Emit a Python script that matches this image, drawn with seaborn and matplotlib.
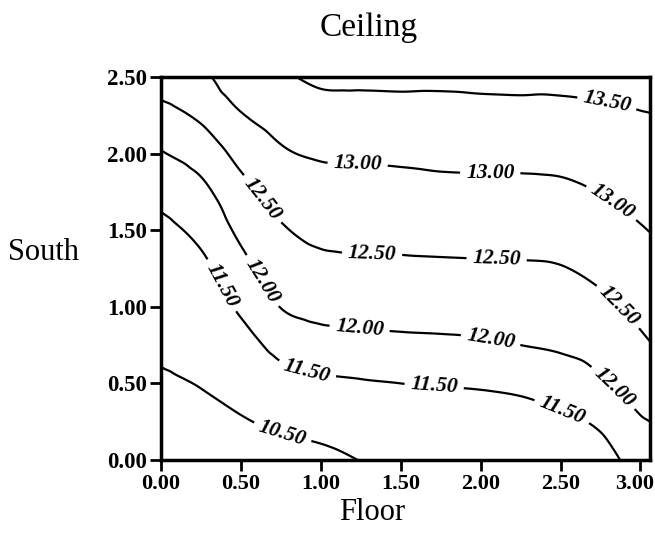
import numpy as np
import matplotlib
matplotlib.use("Agg")
import matplotlib.pyplot as plt
import matplotlib.tri as mtri
import matplotlib.transforms as mtrans
import seaborn as sns

# ---- data ----
floor_x = [0.0, 0.25, 0.5, 0.75, 1.0, 1.25, 1.5, 1.75, 2.0, 2.25, 2.5, 2.75, 3.0, 3.06]
south_y = [0.0, 0.25, 0.5, 0.75, 1.0, 1.25, 1.5, 1.75, 2.0, 2.25, 2.5]
# temperature columns, one list per floor position (bottom -> top)
col_000 = [9.90, 10.15, 10.39, 10.64, 10.88, 11.13, 11.37, 11.65, 11.97, 12.35, 12.73]
col_025 = [10.00, 10.27, 10.54, 10.82, 11.09, 11.37, 11.63, 11.88, 12.20, 12.58, 12.90]
col_050 = [10.14, 10.44, 10.83, 11.24, 11.59, 11.85, 12.10, 12.35, 12.64, 12.97, 13.31]
col_075 = [10.20, 10.64, 11.22, 11.68, 12.01, 12.23, 12.45, 12.69, 12.94, 13.19, 13.44]
col_100 = [10.28, 10.81, 11.38, 11.82, 12.13, 12.38, 12.61, 12.82, 13.05, 13.32, 13.58]
col_125 = [10.52, 10.99, 11.45, 11.85, 12.16, 12.41, 12.63, 12.84, 13.06, 13.33, 13.59]
col_150 = [10.80, 11.15, 11.50, 11.89, 12.18, 12.42, 12.64, 12.86, 13.08, 13.34, 13.60]
col_175 = [10.85, 11.18, 11.53, 11.91, 12.19, 12.43, 12.66, 12.88, 13.11, 13.35, 13.59]
col_200 = [10.85, 11.21, 11.56, 11.94, 12.20, 12.44, 12.67, 12.89, 13.12, 13.36, 13.61]
col_225 = [10.85, 11.26, 11.62, 12.00, 12.22, 12.45, 12.67, 12.89, 13.12, 13.37, 13.62]
col_250 = [11.00, 11.38, 11.74, 12.06, 12.27, 12.48, 12.69, 12.91, 13.14, 13.39, 13.60]
col_275 = [11.25, 11.59, 11.94, 12.18, 12.40, 12.61, 12.81, 13.01, 13.22, 13.43, 13.60]
col_300 = [11.75, 11.96, 12.19, 12.42, 12.61, 12.79, 12.97, 13.14, 13.31, 13.48, 13.63]
col_306 = [11.80, 12.00, 12.23, 12.48, 12.66, 12.84, 13.01, 13.17, 13.33, 13.49, 13.64]
levels = [10.5, 11.5, 12.0, 12.5, 13.0, 13.5]
x_ticks = [0.0, 0.5, 1.0, 1.5, 2.0, 2.5, 3.0]
y_ticks = [0.0, 0.5, 1.0, 1.5, 2.0, 2.5]
title = "Ceiling"
xlabel = "Floor"
ylabel = "South"

Z = np.array([col_000, col_025, col_050, col_075, col_100, col_125, col_150,
              col_175, col_200, col_225, col_250, col_275, col_300, col_306]).T

sns.set_theme(style="ticks")
plt.rcParams['font.family'] = ['Liberation Serif', 'DejaVu Serif']
for k in ['text.color', 'axes.labelcolor', 'xtick.color', 'ytick.color', 'axes.edgecolor']:
    plt.rcParams[k] = 'black'

W, H = 655, 542
fig = plt.figure(figsize=(W / 100, H / 100), dpi=100)
ax = fig.add_axes([161 / W, 1 - 460 / H, (650 - 161) / W, (460 - 77) / H])

# smooth rendering of the gridded field with matplotlib's cubic interpolator
XX, YY = np.meshgrid(floor_x, south_y)
tri = mtri.Triangulation(XX.ravel(), YY.ravel())
interp = mtri.CubicTriInterpolator(tri, Z.ravel(), kind='geom')
fx = np.linspace(floor_x[0], floor_x[-1], 250)
fy = np.linspace(south_y[0], south_y[-1], 200)
FX, FY = np.meshgrid(fx, fy)
FZ = interp(FX, FY)

cs = ax.contour(FX, FY, FZ, levels=levels, colors='black', linewidths=1.6)

label_pos = [
    (2.79, 2.33),
    (1.23, 1.92), (2.06, 1.88), (2.82, 1.68),
    (0.63, 1.70), (1.32, 1.32), (2.10, 1.31), (2.87, 1.01),
    (0.62, 1.16), (1.24, 0.83), (2.06, 0.77), (2.82, 0.46),
    (0.34, 1.12), (0.91, 0.57), (1.71, 0.49), (2.51, 0.32),
    (0.76, 0.18),
]
lbls = ax.clabel(cs, fmt='%.2f', manual=label_pos, inline=True, inline_spacing=6,
                 fontsize=15.5)
for t in lbls:
    t.set_fontweight('bold')
    t.set_fontstyle('italic')
    t.set_family(['Liberation Serif'])
    t.set_color('black')

ax.set_xlim(0, 3.06)
ax.set_ylim(0, 2.5)
ax.set_xticks(x_ticks)
ax.set_yticks(y_ticks)
ax.set_xticklabels([f"{v:.2f}" for v in x_ticks], fontsize=16, fontweight='bold')
ax.set_yticklabels([f"{v:.2f}" for v in y_ticks], fontsize=16.5, fontweight='bold')
ax.tick_params(direction='out', length=8, width=2, color='black', pad=2)
# nudge the last x tick label so it stays inside the figure
last = ax.get_xticklabels()[-1]
last.set_transform(last.get_transform() + mtrans.ScaledTranslation(-6 / 100, 0, fig.dpi_scale_trans))
for s in ax.spines.values():
    s.set_visible(True)
    s.set_linewidth(2.5)
    s.set_color('black')
ax.set_facecolor('white')
ax.grid(False)

fig.text(369 / W, 1 - 28 / H, title, ha='center', va='center', fontsize=24)
fig.text(372 / W, 1 - 512 / H, xlabel, ha='center', va='center', fontsize=22)
fig.text(8 / W, 1 - 253 / H, ylabel, ha='left', va='center', fontsize=22)

fig.savefig("out.png", dpi=100, facecolor='white')
